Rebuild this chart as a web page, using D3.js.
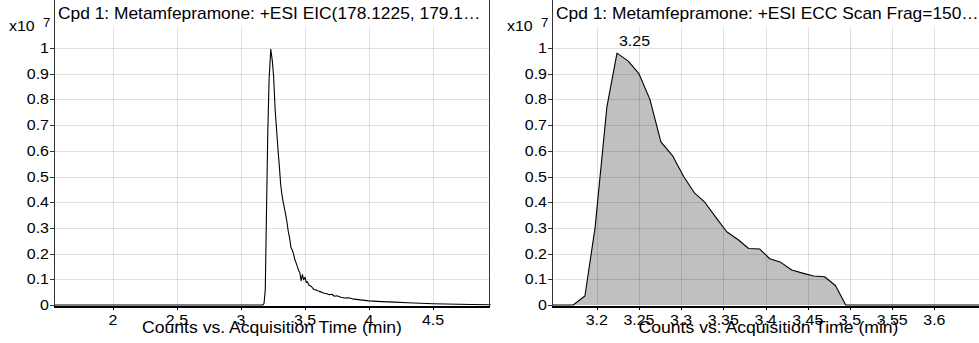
<!DOCTYPE html>
<html>
<head>
<meta charset="utf-8">
<script src="https://cdn.jsdelivr.net/npm/d3@7"></script>
<style>
  html, body { margin: 0; padding: 0; background: #ffffff; }
  svg { display: block; }
</style>
</head>
<body>
<svg id="svg"></svg>
<script>
// Chart data (counts in units of 10^7)

// EIC trace, left panel
var eicTimes = [1.54, 3.17, 3.18, 3.19, 3.20, 3.21, 3.22, 3.233, 3.245, 3.255,
	3.267, 3.28, 3.29, 3.30, 3.31, 3.32, 3.33, 3.34, 3.35, 3.36,
	3.37, 3.38, 3.39, 3.40, 3.41, 3.42, 3.43, 3.44, 3.45, 3.46,
	3.47, 3.48, 3.49, 3.50, 3.51, 3.52, 3.53, 3.55, 3.57, 3.59,
	3.61, 3.63, 3.65, 3.67, 3.69, 3.71, 3.73, 3.75, 3.78, 3.81,
	3.84, 3.87, 3.90, 3.95, 4.0, 4.1, 4.2, 4.3, 4.4, 4.5,
	4.6, 4.7, 4.8, 4.95];
var eicCounts = [0, 0, 0.005, 0.06, 0.38, 0.68, 0.88, 0.995, 0.95, 0.89,
	0.76, 0.67, 0.60, 0.54, 0.47, 0.43, 0.40, 0.375, 0.35, 0.32,
	0.285, 0.26, 0.225, 0.215, 0.20, 0.178, 0.165, 0.15, 0.135, 0.125,
	0.095, 0.118, 0.098, 0.108, 0.088, 0.09, 0.078, 0.072, 0.06, 0.058,
	0.053, 0.05, 0.046, 0.044, 0.04, 0.042, 0.034, 0.036, 0.03, 0.027,
	0.028, 0.024, 0.022, 0.019, 0.016, 0.013, 0.011, 0.009, 0.007, 0.005,
	0.004, 0.003, 0.002, 0.001];

// ECC scan, right panel (integrated peak)
var eccTimes = [3.147, 3.172, 3.186, 3.198, 3.212, 3.224, 3.237, 3.250, 3.263, 3.276,
	3.290, 3.303, 3.316, 3.328, 3.342, 3.354, 3.368, 3.380, 3.393, 3.405,
	3.418, 3.431, 3.445, 3.457, 3.470, 3.483, 3.495, 3.660];
var eccCounts = [0, 0, 0.035, 0.30, 0.77, 0.98, 0.95, 0.90, 0.80, 0.635,
	0.58, 0.50, 0.435, 0.40, 0.337, 0.285, 0.253, 0.22, 0.218, 0.18,
	0.166, 0.136, 0.123, 0.113, 0.11, 0.075, 0, 0];
var peakLabel = "3.25";

// Ticks
var yTicks = [0, 0.1, 0.2, 0.3, 0.4, 0.5, 0.6, 0.7, 0.8, 0.9, 1];
var eicXTicks = [2, 2.5, 3, 3.5, 4, 4.5];
var eccXTicks = [3.2, 3.25, 3.3, 3.35, 3.4, 3.45, 3.5, 3.55, 3.6];

// Texts
var eicTitle = "Cpd 1: Metamfepramone: +ESI EIC(178.1225, 179.1\u2026";
var eccTitle = "Cpd 1: Metamfepramone: +ESI ECC Scan Frag=150\u2026";
var xTitle = "Counts vs. Acquisition Time (min)";

// Layout / style variables
var width = 979;
var height = 343;
var fontFamily = "'Liberation Sans', Arial, sans-serif";
var textStretch = 1.1;
var gridColor = "rgba(0,0,0,0.12)";
var fillColor = "#c0c0c0";
var plotTop = 27;
var zeroY = 305;
var oneY = 48;

var svg = d3.select("#svg")
	.attr("width", width)
	.attr("height", height);

// text helper, stretched a little horizontally like the original render
function putText(g, x, y, str, size, anchor) {
	return g.append("text")
		.attr("transform", "translate(" + x + "," + y + ") scale(" + textStretch + ",1)")
		.attr("font-family", fontFamily)
		.attr("font-size", size)
		.attr("text-anchor", anchor || "start")
		.attr("fill", "#000")
		.text(str);
}

function drawPanel(opt) {
	var g = svg.append("g");
	var x = d3.scaleLinear().domain(opt.domain).range([opt.left, opt.right]);
	var y = d3.scaleLinear().domain([0, 1]).range([zeroY, oneY]);
	var fmt = d3.format(".2~f");

	var pts = opt.times.map(function(t, i) { return [t, opt.counts[i]]; });

	// area fill goes under grid
	if (opt.fill) {
		g.append("path")
			.datum(pts)
			.attr("fill", fillColor)
			.attr("d", d3.area()
				.x(function(d) { return x(d[0]); })
				.y0(y(0))
				.y1(function(d) { return y(d[1]); }));
	}

	// grid
	g.selectAll(".hgrid")
		.data(yTicks.filter(function(v) { return v > 0; }))
		.enter().append("line")
		.attr("x1", opt.left).attr("x2", opt.right)
		.attr("y1", function(d) { return Math.round(y(d)) + 0.5; })
		.attr("y2", function(d) { return Math.round(y(d)) + 0.5; })
		.attr("stroke", gridColor);
	g.selectAll(".vgrid")
		.data(opt.xTicks)
		.enter().append("line")
		.attr("x1", function(d) { return Math.round(x(d)) + 0.5; })
		.attr("x2", function(d) { return Math.round(x(d)) + 0.5; })
		.attr("y1", plotTop).attr("y2", zeroY)
		.attr("stroke", gridColor);

	// trace
	g.append("path")
		.datum(pts)
		.attr("fill", "none")
		.attr("stroke", "#000")
		.attr("stroke-width", 1.1)
		.attr("stroke-linejoin", "round")
		.attr("d", d3.line()
			.x(function(d) { return x(d[0]); })
			.y(function(d) { return y(d[1]); }));

	// frame
	g.append("line")
		.attr("x1", opt.left + 0.5).attr("x2", opt.left + 0.5)
		.attr("y1", 0).attr("y2", zeroY + 2)
		.attr("stroke", "#333").attr("stroke-width", 1);
	if (opt.rightBorder) {
		g.append("line")
			.attr("x1", opt.right - 0.5).attr("x2", opt.right - 0.5)
			.attr("y1", 0).attr("y2", zeroY + 2)
			.attr("stroke", "#333").attr("stroke-width", 1);
	}
	g.append("line")
		.attr("x1", opt.left).attr("x2", opt.right)
		.attr("y1", zeroY + 2).attr("y2", zeroY + 2)
		.attr("stroke", "#000").attr("stroke-width", 2);

	// y axis ticks + labels
	g.selectAll(".ytick")
		.data(yTicks)
		.enter().append("line")
		.attr("x1", opt.left - 4).attr("x2", opt.left)
		.attr("y1", function(d) { return Math.round(y(d)) + 0.5; })
		.attr("y2", function(d) { return Math.round(y(d)) + 0.5; })
		.attr("stroke", "#333");
	yTicks.forEach(function(v) {
		putText(g, opt.left - 5, y(v) + 5, fmt(v), 14.5, "end");
	});

	// x axis ticks + labels
	g.selectAll(".xtick")
		.data(opt.xTicks)
		.enter().append("line")
		.attr("x1", function(d) { return Math.round(x(d)) + 0.5; })
		.attr("x2", function(d) { return Math.round(x(d)) + 0.5; })
		.attr("y1", zeroY + 2).attr("y2", zeroY + 5)
		.attr("stroke", "#000");
	opt.xTicks.forEach(function(v) {
		putText(g, x(v), 325, fmt(v), 14.5, "middle");
	});

	// x10^7 label
	putText(g, opt.left - 45, 31, "x10", 14.5);
	putText(g, opt.left - 11, 27, "7", 12);

	// titles
	putText(g, opt.left + 4, 19, opt.title, 15.8);
	putText(g, (opt.left + opt.right) / 2, 333, xTitle, 16, "middle");

	// apex label
	if (opt.label) {
		var top = pts.reduce(function(a, b) { return b[1] > a[1] ? b : a; });
		putText(g, x(top[0]) + 2, y(top[1]) - 7, opt.label, 14.5);
	}
}

drawPanel({
	left: 54, right: 490,
	domain: [1.54, 4.945],
	times: eicTimes, counts: eicCounts,
	xTicks: eicXTicks,
	title: eicTitle,
	rightBorder: true
});

drawPanel({
	left: 552, right: 985,
	domain: [3.147, 3.660],
	times: eccTimes, counts: eccCounts,
	xTicks: eccXTicks,
	title: eccTitle,
	fill: true,
	label: peakLabel
});
</script>
</body>
</html>
